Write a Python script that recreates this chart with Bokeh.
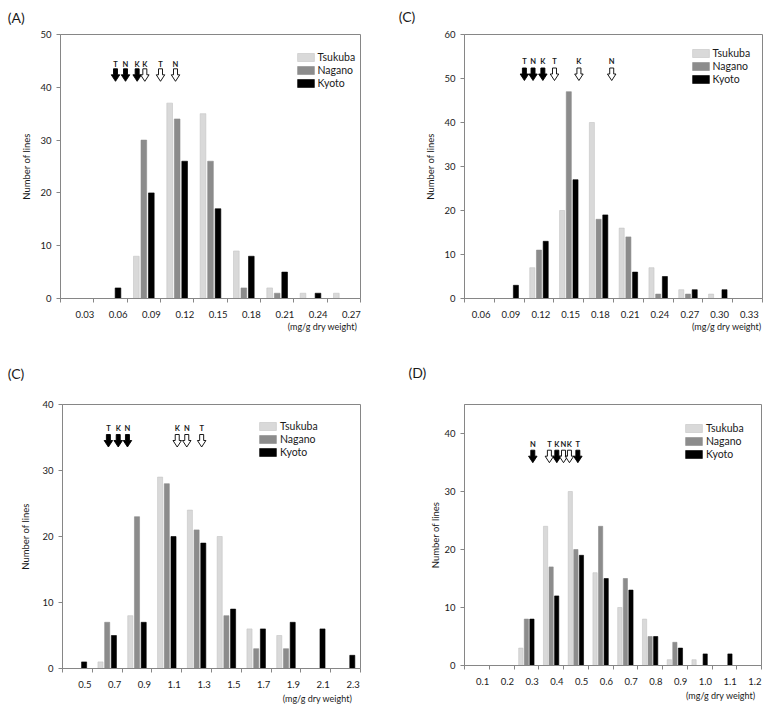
from bokeh.plotting import figure
from bokeh.models import (ColumnDataSource, FixedTicker, CustomJSTickFormatter,
                          Title, Legend, LegendItem)
from bokeh.layouts import column, row
from bokeh.transform import dodge
from bokeh.core.properties import value
from bokeh.embed import file_html
from bokeh.resources import INLINE

FONT = "Lato"
series = ["Tsukuba", "Nagano", "Kyoto"]
colors = ["#d9d9d9", "#8c8c8c", "#000000"]
edge_colors = ["#c4c4c4", "#8c8c8c", "#000000"]

# ---------------- Panel (A) ----------------
a_bins = ["0.03", "0.06", "0.09", "0.12", "0.15", "0.18", "0.21", "0.24", "0.27"]
a_tsukuba = [0, 0, 8, 37, 35, 9, 2, 1, 1]
a_nagano = [0, 0, 30, 34, 26, 2, 1, 0, 0]
a_kyoto = [0, 2, 20, 26, 17, 8, 5, 1, 0]
a_yticks = [0, 10, 20, 30, 40, 50]
a_arrow_pos = [1.65, 1.95, 2.30, 2.53, 3.00, 3.45]
a_arrow_lbl = ["T", "N", "K", "K", "T", "N"]
a_arrow_filled = [True, True, True, False, False, False]

# ---------------- Panel (C), top right ----------------
c1_bins = ["0.06", "0.09", "0.12", "0.15", "0.18", "0.21", "0.24", "0.27", "0.30", "0.33"]
c1_tsukuba = [0, 0, 7, 20, 40, 16, 7, 2, 1, 0]
c1_nagano = [0, 0, 11, 47, 18, 14, 1, 1, 0, 0]
c1_kyoto = [0, 3, 13, 27, 19, 6, 5, 2, 2, 0]
c1_yticks = [0, 10, 20, 30, 40, 50, 60]
c1_arrow_pos = [2.01, 2.30, 2.63, 3.02, 3.84, 4.94]
c1_arrow_lbl = ["T", "N", "K", "T", "K", "N"]
c1_arrow_filled = [True, True, True, False, False, False]

# ---------------- Panel (C), bottom left ----------------
c2_bins = ["0.5", "0.7", "0.9", "1.1", "1.3", "1.5", "1.7", "1.9", "2.1", "2.3"]
c2_tsukuba = [0, 1, 8, 29, 24, 20, 6, 5, 0, 0]
c2_nagano = [0, 7, 23, 28, 21, 8, 3, 3, 0, 0]
c2_kyoto = [1, 5, 7, 20, 19, 9, 6, 7, 6, 2]
c2_yticks = [0, 10, 20, 30, 40]
c2_arrow_pos = [1.54, 1.87, 2.18, 3.85, 4.17, 4.67]
c2_arrow_lbl = ["T", "K", "N", "K", "N", "T"]
c2_arrow_filled = [True, True, True, False, False, False]

# ---------------- Panel (D) ----------------
d_bins = ["0.1", "0.2", "0.3", "0.4", "0.5", "0.6", "0.7", "0.8", "0.9", "1.0", "1.1", "1.2"]
d_tsukuba = [0, 0, 3, 24, 30, 16, 10, 8, 1, 1, 0, 0]
d_nagano = [0, 0, 8, 17, 20, 24, 15, 5, 4, 0, 0, 0]
d_kyoto = [0, 0, 8, 12, 19, 15, 13, 5, 3, 2, 2, 0]
d_yticks = [0, 10, 20, 30, 40]
d_arrow_pos = [2.76, 3.43, 3.73, 4.00, 4.24, 4.58]
d_arrow_lbl = ["N", "T", "K", "N", "K", "T"]
d_arrow_filled = [True, False, True, False, False, True]

AXIS_COL = "#868686"
TEXT_COL = "#1a1a1a"


def make_panel(tag, bins, tsu, nag, kyo, ymax, yticks, apos, albl, afill, lay):
    n = len(bins)
    fw, fh = lay["fw"], lay["fh"]
    p = figure(title=tag, frame_width=fw, frame_height=fh, x_range=(0, n), y_range=(0, ymax),
               output_backend="svg", toolbar_location=None, tools="",
               min_border_left=lay["ml"], min_border_right=lay["mr"],
               min_border_top=lay["mt"], min_border_bottom=lay["mb"])
    p.background_fill_color = "white"
    p.border_fill_color = "white"
    p.outline_line_color = AXIS_COL
    p.xgrid.visible = False
    p.ygrid.visible = False

    # panel tag as the figure title
    t = p.title
    t.align = "left"
    t.vertical_align = "top"
    t.offset = lay["tag"][0]
    t.standoff = lay["tag"][1]
    t.text_font = FONT
    t.text_font_size = "14px"
    t.text_font_style = "normal"
    t.text_color = TEXT_COL

    src = ColumnDataSource(dict(center=[i + 0.5 for i in range(n)], t=tsu, nn=nag, k=kyo))
    rends = []
    for off, col, fc, lc in zip([-0.225, 0.0, 0.225], ["t", "nn", "k"], colors, edge_colors):
        r = p.vbar(x=dodge("center", off, range=p.x_range), top=col, width=0.17, bottom=0,
                   source=src, fill_color=fc, line_color=lc, line_width=0.6)
        rends.append(r)

    # x axis: labels slightly right of bin centre, tick marks at bin boundaries
    loff = lay["loff"]
    xa = p.xaxis[0]
    xa.ticker = FixedTicker(ticks=[i + loff for i in range(n)], minor_ticks=list(range(n + 1)))
    xa.formatter = CustomJSTickFormatter(args=dict(labels=bins, off=loff),
                                         code="return labels[Math.round(tick - off)]")
    xa.major_tick_out = 0
    xa.major_tick_in = 0
    xa.minor_tick_out = 4
    xa.minor_tick_in = 0
    xa.minor_tick_line_color = AXIS_COL
    xa.axis_line_color = AXIS_COL
    xa.major_label_standoff = 8
    xa.major_label_text_font = FONT
    xa.major_label_text_font_size = "9.5px"
    xa.major_label_text_color = TEXT_COL

    ya = p.yaxis[0]
    ya.ticker = FixedTicker(ticks=yticks)
    ya.major_tick_out = 4
    ya.major_tick_in = 0
    ya.minor_tick_line_color = None
    ya.major_tick_line_color = AXIS_COL
    ya.axis_line_color = AXIS_COL
    ya.major_label_standoff = 5
    ya.major_label_text_font = FONT
    ya.major_label_text_font_size = "9.5px"
    ya.major_label_text_color = TEXT_COL
    ya.axis_label = "Number of lines"
    ya.axis_label_text_font = FONT
    ya.axis_label_text_font_size = "9.5px"
    ya.axis_label_text_font_style = "normal"
    ya.axis_label_text_color = TEXT_COL
    ya.axis_label_standoff = lay["yls"]

    # unit text under the x axis, right aligned
    p.add_layout(Title(text="(mg/g dry weight)", align="right", vertical_align="top",
                       offset=lay["unit"][0], standoff=lay["unit"][1],
                       text_font=FONT, text_font_size="9px", text_font_style="normal",
                       text_color=TEXT_COL), "below")

    # mean arrows
    px2x = n / fw
    px2y = ymax / fh
    ytop_px = lay["arrow_top"]
    H, sh, sw, hw = 12.5, 6.0, 4.0, 8.5
    shape = [(-sw / 2, 0), (sw / 2, 0), (sw / 2, sh), (hw / 2, sh), (0, H), (-hw / 2, sh), (-sw / 2, sh)]
    for filled_flag in (True, False):
        xs, ys = [], []
        for xc, f in zip(apos, afill):
            if f != filled_flag:
                continue
            xs.append([xc + dx * px2x for dx, dy in shape])
            ys.append([ymax - (ytop_px + dy) * px2y for dx, dy in shape])
        if xs:
            p.patches(xs, ys, fill_color="black" if filled_flag else "white",
                      line_color="black", line_width=0.9)
    p.text(x=apos, y=[ymax - lay["lbl_top"] * px2y] * len(apos), text=albl,
           text_align="center", text_baseline="middle", text_font=value(FONT),
           text_font_size="7.5px", text_font_style="bold", text_color=TEXT_COL)

    # legend
    legend = Legend(items=[LegendItem(label=s, renderers=[r]) for s, r in zip(series, rends)],
                    location=lay["leg"], glyph_width=21, glyph_height=10, label_height=10,
                    spacing=1, padding=0, margin=0, label_standoff=2,
                    border_line_alpha=0, background_fill_alpha=0,
                    label_text_font=FONT, label_text_font_size="10.5px",
                    label_text_color=TEXT_COL, label_text_baseline="middle")
    p.add_layout(legend)
    return p


pA = make_panel("(A)", a_bins, a_tsukuba, a_nagano, a_kyoto, 50, a_yticks,
                a_arrow_pos, a_arrow_lbl, a_arrow_filled,
                dict(fw=300, fh=264, ml=60, mr=25, mt=33, mb=43, loff=0.73, yls=5,
                     arrow_top=34.3, lbl_top=29.8, leg=(234.5, 209),
                     tag=(-52.7, 14), unit=(3.3, 0)))
pC1 = make_panel("(C)", c1_bins, c1_tsukuba, c1_nagano, c1_kyoto, 60, c1_yticks,
                 c1_arrow_pos, c1_arrow_lbl, c1_arrow_filled,
                 dict(fw=298, fh=264, ml=79, mr=8, mt=34, mb=42, loff=0.56, yls=5,
                      arrow_top=33.5, lbl_top=26.7, leg=(225.5, 212.7),
                      tag=(-65.7, 15), unit=(1, 0)))
pC2 = make_panel("(C)", c2_bins, c2_tsukuba, c2_nagano, c2_kyoto, 40, c2_yticks,
                 c2_arrow_pos, c2_arrow_lbl, c2_arrow_filled,
                 dict(fw=298, fh=264, ml=62, mr=25, mt=62, mb=38, loff=0.75, yls=8,
                      arrow_top=30, lbl_top=24.4, leg=(195, 210),
                      tag=(-54.7, 41), unit=(8.3, 4)))
pD = make_panel("(D)", d_bins, d_tsukuba, d_nagano, d_kyoto, 45, d_yticks,
                d_arrow_pos, d_arrow_lbl, d_arrow_filled,
                dict(fw=297, fh=261, ml=79, mr=9, mt=64, mb=39, loff=0.73, yls=0,
                     arrow_top=45.7, lbl_top=40, leg=(219, 205.2),
                     tag=(-56, 44), unit=(6, 4)))

layout = column(row(pA, pC1), row(pC2, pD))
open("out.html", "w").write(file_html(layout, INLINE))
